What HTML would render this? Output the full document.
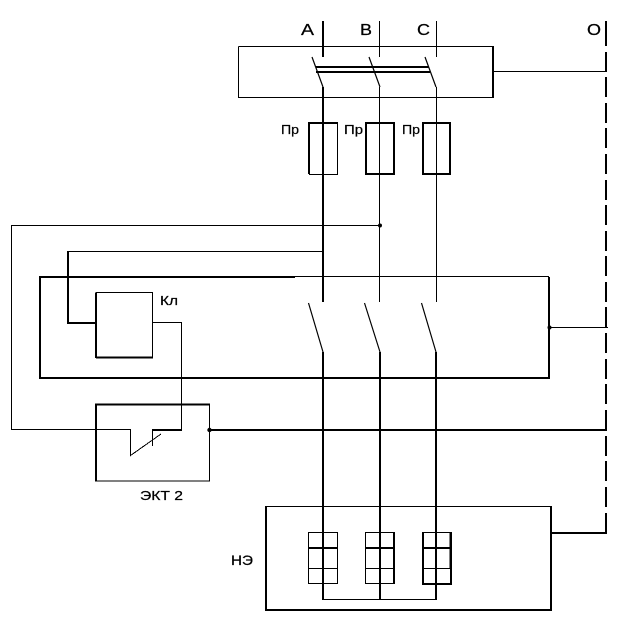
<!DOCTYPE html>
<html><head><meta charset="utf-8">
<style>
html,body{margin:0;padding:0;background:#fff;width:620px;height:629px;overflow:hidden}
svg{display:block}
text{font-family:"Liberation Sans",sans-serif;fill:#000;stroke:#000;stroke-width:.25}
.t{stroke:#000;stroke-width:1;fill:none;shape-rendering:crispEdges}
.k{stroke:#000;stroke-width:2;fill:none;shape-rendering:crispEdges}
.s{stroke:#000;stroke-width:1.2;fill:none}
</style></head><body>
<svg width="620" height="629" viewBox="0 0 620 629" xmlns="http://www.w3.org/2000/svg">
<!-- labels -->
<text x="301" y="35" font-size="16" textLength="13" lengthAdjust="spacingAndGlyphs">A</text>
<text x="360" y="35" font-size="16" textLength="12" lengthAdjust="spacingAndGlyphs">B</text>
<text x="417" y="35" font-size="16" textLength="13" lengthAdjust="spacingAndGlyphs">C</text>
<text x="587" y="35" font-size="16" textLength="14" lengthAdjust="spacingAndGlyphs">O</text>
<text x="281" y="134" font-size="13" textLength="18" lengthAdjust="spacingAndGlyphs">Пр</text>
<text x="344" y="134" font-size="13" textLength="19" lengthAdjust="spacingAndGlyphs">Пр</text>
<text x="402" y="134" font-size="13" textLength="18" lengthAdjust="spacingAndGlyphs">Пр</text>
<text x="160" y="305" font-size="13" textLength="18" lengthAdjust="spacingAndGlyphs">Кл</text>
<text x="140" y="500" font-size="13" textLength="43" lengthAdjust="spacingAndGlyphs">ЭКТ 2</text>
<text x="231" y="565" font-size="14" textLength="22" lengthAdjust="spacingAndGlyphs">НЭ</text>

<!-- top box -->
<path class="t" d="M238.500 46.500H493M238.500 46.500V97.500H493"/>
<path class="k" d="M493 46V98"/>
<path class="t" d="M493 71.500H607"/>
<!-- phase lines top -->
<path class="k" d="M323 21V57"/>
<path class="t" d="M379.500 21V57M436.500 21V57"/>
<path class="s" d="M312 57L323 87M369 57L380 87M425 57L436 87"/>
<path class="k" d="M316 67H429M316 72H430"/>
<path class="k" d="M323 87V302"/>
<path class="t" d="M379.500 87V302M436.500 87V302"/>
<!-- fuses -->
<path class="t" d="M309 174.500H337.500V123"/>
<path class="k" d="M309 174V123H338"/>
<path class="k" d="M366 174V123H394V174ZM423 174V123H450V174Z"/>

<!-- control wires -->
<path class="t" d="M380 225.500H11.500V429.500H130.500V455.500L161 434"/>
<path class="t" d="M152.500 430V446"/>
<circle cx="380" cy="225.500" r="2" fill="#000"/>
<path class="t" d="M324 251.500H68"/>
<path class="k" d="M68 251V323H96"/>
<path class="t" d="M153 322.500H181.500V430"/>
<path class="k" d="M152 430H182"/>

<!-- Kl box -->
<path class="k" d="M96 358V292.500"/>
<path class="t" d="M96 292.500H152.500V357"/>
<path class="k" d="M96 357.500H153"/>

<!-- big box -->
<path class="k" d="M295 277H40V378H549V277"/>
<path class="t" d="M295 276.500H549"/>
<path class="t" d="M549 327.500H608"/>
<circle cx="549.500" cy="327.500" r="2" fill="#000"/>

<!-- lower switches -->
<path class="s" d="M308.500 303L323 352M364.500 303L380 352M421.500 303L436 352"/>
<path class="k" d="M323 352V600M380 352V600M436 352V600"/>
<path class="t" d="M323 599.500H437"/>

<!-- EKT box -->
<path class="k" d="M96 481V404.500H210"/>
<path class="t" d="M209.500 404V481H95"/>
<path class="k" d="M210 430H607"/>
<circle cx="209.500" cy="430" r="2.200" fill="#000"/>

<!-- NE box -->
<path class="t" d="M266 506.500H550"/>
<path class="k" d="M266 506V610H551V506"/>
<path class="k" d="M550 533H607"/>
<!-- meters -->
<path class="t" d="M308.500 532.500H337.500V583.500H308.500ZM308.500 568.500H337"/>
<path class="k" d="M308 548H338"/>
<path class="t" d="M365.500 532.500H394V583.500H365.500ZM365.500 568.500H394"/>
<path class="k" d="M394 532V584M365 548H394"/>
<path class="t" d="M422 532.500H450V568.500H422"/>
<path class="k" d="M423 532V584H451V532M422 548H450"/>

<!-- O dashed -->
<path class="k" d="M606 21V46M606 52V72M606 77V97M606 103V123M606 128V148M606 154V174M606 180V200M606 205V225M606 231V251M606 256V276M606 282V302M606 307V328M606 333V353M606 359V379M606 384V404M606 410V431M606 436V456M606 461V481M606 487V507M606 513V534"/>
</svg>
</body></html>
